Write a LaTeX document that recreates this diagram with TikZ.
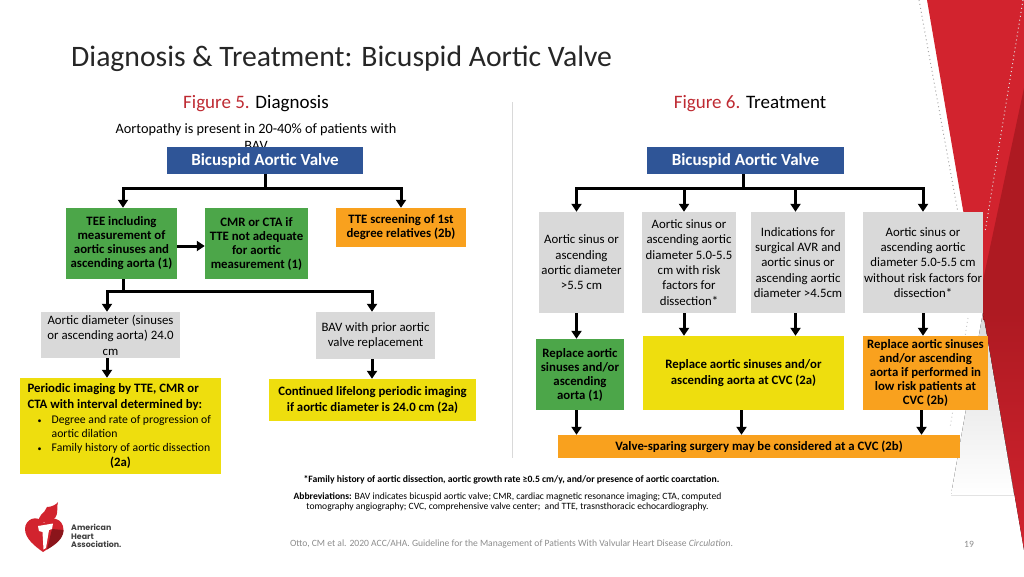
\documentclass[tikz,border=0pt]{standalone}
\usepackage{fontspec}
\setmainfont{Carlito}
\newfontfamily\logofont{Poppins}
\usetikzlibrary{arrows.meta}

\definecolor{ahablue}{HTML}{2F5597}
\definecolor{ahagreen}{HTML}{4CA649}
\definecolor{ahaorange}{HTML}{F9A11E}
\definecolor{ahayellow}{HTML}{EEDE0E}
\definecolor{ahagrey}{HTML}{D9D9D9}
\definecolor{ahared}{HTML}{D2232E}
\definecolor{ahadark}{HTML}{AE1A22}
\definecolor{figred}{HTML}{BE2A32}

\newcommand{\bulletline}[1]{{\mdseries\fontsize{11.7}{14}\selectfont\makebox[24.2pt][c]{\fontsize{8}{8}\selectfont\textbullet}#1}}

\tikzset{
  plainbox/.style={inner sep=0pt,align=center,font=\fontsize{12.8}{15.4}\selectfont},
  bluebox/.style={plainbox,fill=ahablue,text=white,font=\fontsize{17}{20}\selectfont\bfseries},
  greybox/.style={plainbox,fill=ahagrey},
  greenbox/.style={plainbox,fill=ahagreen,font=\fontsize{12.8}{14}\selectfont\bfseries},
  orangebox/.style={plainbox,fill=ahaorange,font=\fontsize{12.8}{14}\selectfont\bfseries},
  yellowbox/.style={plainbox,fill=ahayellow,font=\fontsize{12.8}{15.4}\selectfont\bfseries},
  flow/.style={line width=3pt,-{Triangle[length=8pt,width=10pt]}},
  stem/.style={line width=3pt},
  figlabel/.style={inner sep=0pt,font=\fontsize{19}{23}\selectfont},
  smallnote/.style={inner sep=0pt,align=center,font=\fontsize{9.6}{10.4}\selectfont},
}

\begin{document}
\begin{tikzpicture}[x=1pt,y=-1pt]
  \useasboundingbox (0,0) rectangle (1024,576);

  % red corner of the slide
  \fill[top color=ahagrey,bottom color=white] (983,312) -- (1014,495) -- (951,495) -- cycle;
  \fill[ahared] (927,0) -- (1024,0) -- (1024,200) -- (983,313) -- (963,210) -- cycle;
  \fill[ahadark] (1024,88) -- (982,285) -- (983,320) -- (1024,320) -- cycle;
  \fill[top color=ahadark,bottom color=ahared] (983,312) -- (1024,312) -- (1024,550) -- cycle;
  \draw[gray!70,line width=1pt,dash pattern=on 1pt off 3pt] (919,0) -- (967,262);
  \draw[gray!40,line width=1pt,dash pattern=on 1pt off 3pt] (968,318) -- (950,428);
  \draw[white!75!gray,line width=1pt,dash pattern=on 1pt off 3pt] (1023,0) -- (985,232);

  % heading
  \node[inner sep=0pt,anchor=west,text=black!85,font=\fontsize{29.7}{34}\selectfont] (title) at (71,58.5) {Diagnosis \& Treatment: Bicuspid Aortic Valve};
  \node[figlabel] (figdiag) at (256,104) {\textcolor{figred}{Figure 5.} Diagnosis};
  \node[figlabel] (figtreat) at (750,104) {\textcolor{figred}{Figure 6.} Treatment};
  \node[plainbox,font=\fontsize{14.3}{17}\selectfont] (aortopathy) at (256,137) {Aortopathy is present in 20-40\% of patients with\\BAV};

  % separator
  \coordinate (septop) at (512,102);
  \coordinate (sepbottom) at (512,458);
  \draw[black!15,line width=1pt] (septop) -- (sepbottom);

  % figure 5 boxes
  \node[bluebox,minimum width=196,minimum height=27] (bavdiag) at (265,160.5) {Bicuspid Aortic Valve};
  \node[greenbox,minimum width=111,minimum height=71] (tee) at (121.5,243.5) {TEE including\\measurement of\\aortic sinuses and\\ascending aorta (1)};
  \node[greenbox,minimum width=103,minimum height=71] (cmr) at (256.5,243.5) {CMR or CTA if\\TTE not adequate\\for aortic\\measurement (1)};
  \node[orangebox,minimum width=130,minimum height=39] (ttescreen) at (401,227.5) {TTE screening of 1st\\degree relatives (2b)};
  \node[greybox,minimum width=139,minimum height=46] (diameter) at (110.5,335) {Aortic diameter (sinuses\\or ascending aorta) 24.0\\cm};
  \node[greybox,minimum width=119,minimum height=47] (prior) at (375.5,335.5) {BAV with prior aortic\\valve replacement};
  \node[yellowbox,minimum width=201,minimum height=96,align=left] (periodic) at (120.5,426) {%
    \makebox[186pt][l]{Periodic imaging by TTE, CMR or}\\
    CTA with interval determined by:\\[-0.6pt]
    \bulletline{Degree and rate of progression of}\\[-1.4pt]
    {\mdseries\fontsize{11.7}{14}\selectfont\hspace*{24.2pt}aortic dilation}\\[-1.4pt]
    \bulletline{Family history of aortic dissection}\\[-0.4pt]
    \makebox[186pt][c]{(2a)}};
  \node[yellowbox,minimum width=207,minimum height=42] (lifelong) at (372.5,400) {Continued lifelong periodic imaging\\if aortic diameter is 24.0 cm (2a)};

  % figure 6 boxes
  \node[bluebox,minimum width=197,minimum height=27] (bavtreat) at (745.5,160.5) {Bicuspid Aortic Valve};
  \node[greybox,minimum width=85,minimum height=101] (sinus) at (581.5,262.5) {Aortic sinus or\\ascending\\aortic diameter\\>5.5 cm};
  \node[greybox,minimum width=94,minimum height=101] (sinusrisk) at (689,262.5) {Aortic sinus or\\ascending aortic\\diameter 5.0-5.5\\cm with risk\\factors for\\dissection*};
  \node[greybox,minimum width=94,minimum height=101] (avr) at (798,262.5) {Indications for\\surgical AVR and\\aortic sinus or\\ascending aortic\\diameter >4.5cm};
  \node[greybox,minimum width=120,minimum height=101] (sinusnorisk) at (923,262.5) {Aortic sinus or\\ascending aortic\\diameter 5.0-5.5 cm\\without risk factors for\\dissection*};
  \node[greenbox,minimum width=88,minimum height=71] (replgreen) at (580,374.5) {Replace aortic\\sinuses and/or\\ascending\\aorta (1)};
  \node[yellowbox,minimum width=201,minimum height=74] (replyellow) at (743.5,373) {Replace aortic sinuses and/or\\ascending aorta at CVC (2a)};
  \node[orangebox,minimum width=125,minimum height=74] (replorange) at (925.5,373) {Replace aortic sinuses\\and/or ascending\\aorta if performed in\\low risk patients at\\CVC (2b)};
  \node[orangebox,minimum width=402,minimum height=23] (sparing) at (759,446.5) {Valve-sparing surgery may be considered at a CVC (2b)};

  % figure 5 connectors
  \coordinate (diagfork) at (265,188.5);
  \coordinate (teefork) at (123,291);
  \coordinate (diamx) at (107,300);
  \coordinate (priorx) at (372,300);
  \coordinate (teex) at (123,200);
  \coordinate (ttex) at (401,200);
  \draw[stem] (bavdiag.south) -- (diagfork);
  \draw[flow] (diagfork) -| (teex |- tee.north);
  \draw[flow] (diagfork) -| (ttex |- ttescreen.north);
  \draw[flow] (tee.east |- 0,246) -- (cmr.west |- 0,246);
  \draw[stem] (teex |- tee.south) -- (teefork);
  \draw[flow] (teefork) -| (diamx |- diameter.north);
  \draw[flow] (teefork) -| (priorx |- prior.north);
  \draw[flow] (diamx |- diameter.south) -- (diamx |- periodic.north);
  \draw[flow] (priorx |- prior.south) -- (priorx |- lifelong.north);

  % figure 6 connectors
  \coordinate (treatfork) at (743,188);
  \coordinate (colone) at (576.5,200);
  \coordinate (coltwo) at (684,200);
  \coordinate (colthree) at (795.5,200);
  \coordinate (colfour) at (923,200);
  \coordinate (sparetwo) at (741.5,420);
  \coordinate (sparethree) at (921.5,420);
  \draw[stem] (bavtreat.south -| treatfork) -- (treatfork);
  \draw[flow] (treatfork) -| (colone |- sinus.north);
  \draw[flow] (treatfork) -| (coltwo |- sinusrisk.north);
  \draw[flow] (treatfork) -| (colthree |- avr.north);
  \draw[flow] (treatfork) -| (colfour |- sinusnorisk.north);
  \draw[flow] (colone |- sinus.south) -- (colone |- replgreen.north);
  \draw[flow] (coltwo |- sinusrisk.south) -- (coltwo |- replyellow.north);
  \draw[flow] (colthree |- avr.south) -- (colthree |- replyellow.north);
  \draw[flow] (colfour |- sinusnorisk.south) -- (colfour |- replorange.north);
  \draw[flow] (colone |- replgreen.south) -- (colone |- sparing.north);
  \draw[flow] (sparetwo |- replyellow.south) -- (sparetwo |- sparing.north);
  \draw[flow] (sparethree |- replorange.south) -- (sparethree |- sparing.north);

  % notes
  \node[smallnote,font=\fontsize{9.7}{10.4}\selectfont\bfseries] (familynote) at (511.5,480) {*Family history of aortic dissection, aortic growth rate ≥0.5 cm/y, and/or presence of aortic coarctation.};
  \node[smallnote] (abbrev) at (507.5,502) {\textbf{Abbreviations:} BAV indicates bicuspid aortic valve; CMR, cardiac magnetic resonance imaging; CTA, computed\\tomography angiography; CVC, comprehensive valve center; \ and TTE, trasnsthoracic echocardiography.};
  \node[inner sep=0pt,text=black!45,font=\fontsize{9.6}{12}\selectfont] (citation) at (511.5,544) {Otto, CM et al. 2020 ACC/AHA. Guideline for the Management of Patients With Valvular Heart Disease \textit{Circulation}.};
  \node[inner sep=0pt,text=black!45,font=\fontsize{9.6}{12}\selectfont] (pagenum) at (969,544) {19};

  % logo
  \fill[ahared] (43,552) .. controls (36,547) and (25,539) .. (25,529) .. controls (25,519) and (37,514) .. (44,523) .. controls (50,515) and (63.5,518) .. (63.5,530) .. controls (63.5,539) and (52,546) .. (43,552) -- cycle;
  \fill[ahadark!80!black] (47,549.5) .. controls (55,545) and (63.5,539) .. (63.5,530) -- (52,529) -- cycle;
  \fill[ahared] (40,523) .. controls (36,515) and (45,514) .. (47,507) .. controls (51,507) and (56,505) .. (58,502) .. controls (56,508) and (59,513) .. (55,518) .. controls (53,521) and (47,522) .. (40,523) -- cycle;
  \fill[white] (38,526) -- (53,523.5) -- (52,529) -- (49,530) -- (46,548) -- (43.5,549.5) -- (42.5,532) -- (39,531) -- cycle;
  \node[inner sep=0pt,anchor=west,align=left,text=black!75,font=\logofont\fontsize{7.9}{8.4}\selectfont\bfseries] (logotext) at (71,536) {American\\Heart\\Association.};

\end{tikzpicture}
\end{document}
